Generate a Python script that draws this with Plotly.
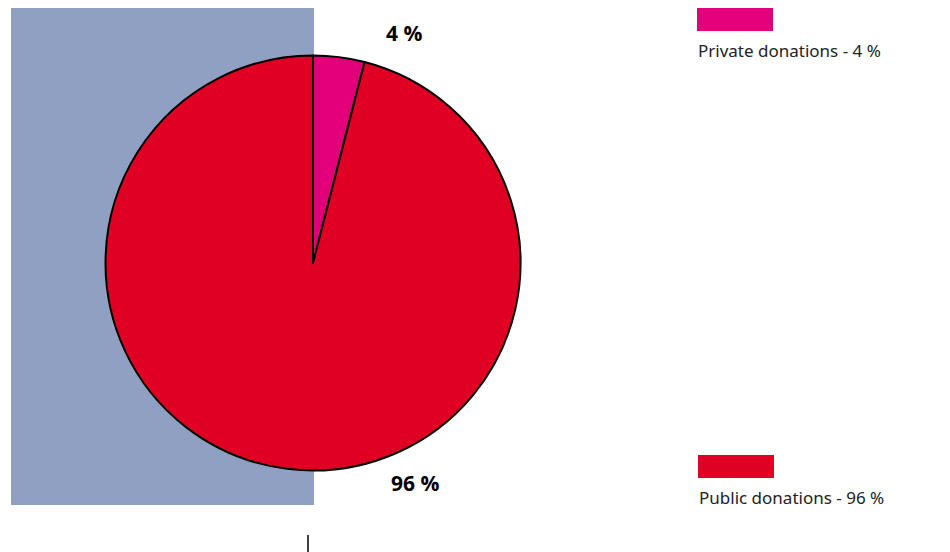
import plotly.graph_objects as go

W, H = 950, 552
OFF = 8  # page body margin offset

labels = ["Private donations", "Public donations"]
values = [4, 96]
colors = ["#E2007A", "#E00024"]
pct_labels = ["4 %", "96 %"]

def px(x):
    return (x - OFF) / W

def py(y):
    return 1 - (y - OFF) / H

fig = go.Figure()
fig.add_trace(go.Pie(
    labels=labels,
    values=values,
    sort=False,
    direction="clockwise",
    rotation=0,
    textinfo="none",
    hoverinfo="label+percent",
    marker=dict(colors=colors, line=dict(color="#000000", width=2)),
    domain=dict(x=[px(105.5), px(520.5)], y=[py(470.5), py(55.5)]),
    showlegend=False,
))

shapes = [
    dict(type="rect", xref="paper", yref="paper", x0=px(11), x1=px(314), y0=py(505), y1=py(7),
         fillcolor="#8FA0C2", line=dict(width=0), layer="below"),
    dict(type="line", xref="paper", yref="paper", x0=px(308), x1=px(308), y0=py(535), y1=py(556),
         line=dict(color="#000000", width=1.5)),
]
annotations = []

# percentage labels
pct_pos = [(404, 33), (415, 483)]
for t, (x, y) in zip(pct_labels, pct_pos):
    annotations.append(dict(text="<b>%s</b>" % t, x=px(x), y=py(y), xref="paper", yref="paper",
                            showarrow=False, xanchor="center", yanchor="middle",
                            font=dict(family="Open Sans", size=21, color="#000000")))

# custom legend
leg_pos = [(697, 8, 50), (698, 455, 497)]
for lab, v, c, (x, y, ty) in zip(labels, values, colors, leg_pos):
    shapes.append(dict(type="rect", xref="paper", yref="paper", x0=px(x), x1=px(x + 76),
                       y0=py(y + 23), y1=py(y), fillcolor=c, line=dict(width=0)))
    annotations.append(dict(text="%s - %d %%" % (lab, v), x=px(x - 1), y=py(ty), xref="paper", yref="paper",
                            showarrow=False, xanchor="left", yanchor="middle",
                            font=dict(family="Noto Sans", size=17, color="#222222")))

fig.update_layout(
    width=W, height=H,
    margin=dict(l=0, r=0, t=0, b=0),
    paper_bgcolor="#FFFFFF",
    plot_bgcolor="#FFFFFF",
    shapes=shapes,
    annotations=annotations,
)

fig.write_html("out.html")
